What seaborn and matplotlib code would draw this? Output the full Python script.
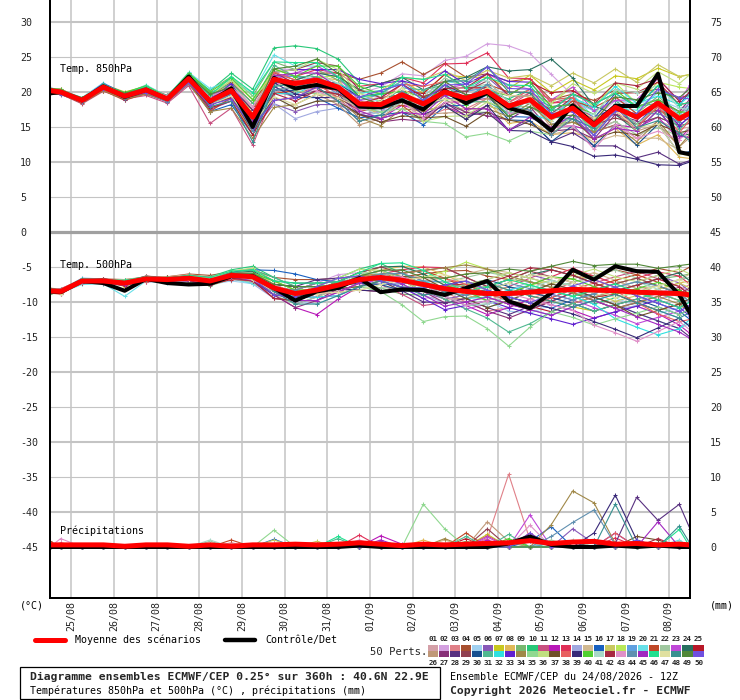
import matplotlib
matplotlib.use("Agg")
import matplotlib.pyplot as plt
import seaborn as sns
import pandas as pd
from matplotlib.lines import Line2D
from matplotlib.patches import Rectangle

# forecast steps (hours after 24/08 12Z)
hours = [0, 6, 18, 30, 42, 54, 66, 78, 90, 102, 114, 126, 138, 150, 162, 174,
         186, 198, 210, 222, 234, 246, 258, 270, 282, 294, 306, 318, 330, 342, 354, 360]
day_labels = ["25/08", "26/08", "27/08", "28/08", "29/08", "30/08", "31/08", "01/09",
              "02/09", "03/09", "04/09", "05/09", "06/09", "07/09", "08/09"]

member_colors = [
    "#d4a0a8", "#d4a0e0", "#e08088", "#a85030", "#a0d0f0", "#8858b8", "#c8c820", "#e0b858",
    "#78b870", "#28c878", "#c85080", "#b818b8", "#e03058", "#a0a8e0", "#d0b890", "#1860c0",
    "#c8c860", "#b8e858", "#60a0e0", "#68e0e8", "#c04828", "#a0c8a0", "#c048d8", "#287060",
    "#b81828",
    "#c09878", "#883078", "#583080", "#904050", "#185090", "#50b890", "#30e0e0", "#6020d0",
    "#a08848", "#90d890", "#c0e080", "#705028", "#e86060", "#382878", "#50d030", "#a8d8c8",
    "#a82840", "#e090c8", "#6090b0", "#a028c0", "#20e090", "#e0e0a0", "#389090", "#508838",
    "#7050e0"]

t850_mean = [20.2, 20.0, 18.8, 20.7, 19.4, 20.3, 19.0, 21.9, 18.7, 20.2, 16.4, 21.8, 21.2, 21.7, 20.7, 18.3,
             18.2, 19.6, 18.3, 20.0, 19.1, 20.1, 18.0, 18.9, 16.4, 17.7, 15.3, 17.8, 16.4, 18.4, 16.2, 17.0]
t850_ctrl = [19.8, 20.0, 18.8, 20.8, 19.3, 20.3, 19.0, 22.2, 18.6, 20.5, 15.0, 22.0, 20.5, 21.0, 20.5, 17.9,
             17.8, 18.8, 17.5, 20.2, 18.4, 19.9, 17.7, 16.9, 14.5, 18.1, 15.4, 18.0, 18.0, 22.6, 11.4, 11.1]
t500_mean = [-8.4, -8.5, -7.0, -7.0, -7.3, -6.7, -6.8, -6.6, -7.0, -6.2, -6.4, -8.0, -8.8, -8.3, -7.6, -6.8,
             -6.5, -6.9, -7.5, -8.1, -8.5, -8.8, -8.8, -8.6, -8.4, -8.2, -8.3, -8.4, -8.6, -8.7, -8.8, -9.0]
t500_ctrl = [-8.5, -8.6, -7.0, -7.3, -8.4, -6.7, -7.3, -7.5, -7.4, -6.3, -6.3, -8.0, -9.8, -8.5, -8.0, -6.6,
             -8.6, -8.2, -8.3, -9.0, -8.0, -7.0, -9.9, -10.9, -8.7, -5.4, -6.8, -4.9, -5.6, -5.7, -9.0, -11.6]
rr_mean = [0.3, 0.3, 0.3, 0.3, 0.1, 0.3, 0.3, 0.1, 0.3, 0.1, 0.3, 0.3, 0.4, 0.3, 0.4, 0.6,
           0.4, 0.2, 0.4, 0.3, 0.4, 0.5, 0.6, 0.9, 0.5, 0.7, 0.8, 0.4, 0.5, 0.3, 0.4, 0.3]
rr_ctrl = [0, 0, 0, 0, 0, 0, 0, 0, 0, 0, 0, 0, 0, 0, 0, 0.2,
           0, 0, 0, 0, 0, 0, 0.5, 1.5, 0.3, 0, 0, 0.2, 0, 0.2, 0, 0]

t850_members = [
    [20.5, 20.2, 18.9, 20.9, 19.4, 20.6, 19.2, 22.4, 19.5, 21.2, 17.9, 22.6, 20.7, 20.5, 19.2, 17.5, 17.2, 18.1, 17.8, 20.5, 20.1, 20.9, 17.5, 17.4, 14.4, 16.7, 14.8, 15.8, 13.4, 15.9, 14.7, 15.0],
    [20.3, 20.3, 19.0, 21.1, 19.7, 20.8, 19.4, 22.5, 19.2, 21.0, 17.4, 23.3, 23.2, 23.2, 21.7, 19.8, 20.7, 22.6, 22.3, 24.5, 25.1, 26.9, 26.6, 25.5, 22.5, 19.5, 16.0, 18.8, 16.4, 17.4, 16.7, 17.0],
    [20.0, 19.9, 18.6, 20.4, 19.5, 19.9, 18.8, 21.4, 17.7, 19.0, 15.9, 20.3, 19.2, 20.2, 19.7, 17.8, 18.2, 18.6, 16.3, 17.5, 17.6, 19.1, 18.5, 19.9, 16.9, 17.2, 16.3, 19.3, 16.9, 17.9, 15.2, 16.5],
    [20.4, 20.1, 19.1, 20.8, 19.6, 20.3, 19.3, 22.3, 19.5, 21.4, 18.4, 22.8, 21.7, 22.7, 22.7, 21.8, 22.7, 24.3, 22.5, 24.1, 22.1, 22.6, 21.5, 21.9, 18.9, 19.7, 18.8, 20.3, 19.9, 20.4, 19.2, 19.5],
    [20.1, 20.0, 19.0, 20.5, 19.7, 20.5, 19.1, 21.6, 18.9, 19.7, 14.9, 19.3, 17.7, 18.7, 18.7, 17.3, 17.7, 20.1, 19.8, 21.0, 19.1, 19.1, 16.0, 17.9, 16.9, 19.2, 17.3, 18.8, 18.4, 18.9, 17.7, 18.0],
    [19.9, 19.6, 18.6, 20.2, 19.1, 19.7, 18.6, 21.1, 17.5, 18.7, 14.4, 18.3, 17.2, 18.2, 18.2, 16.8, 17.2, 19.6, 18.8, 20.0, 20.1, 22.1, 19.5, 19.4, 17.9, 18.2, 14.8, 17.8, 14.9, 17.9, 16.7, 18.5],
    [20.2, 20.1, 19.1, 21.1, 20.0, 20.8, 19.3, 22.6, 19.7, 20.7, 17.4, 23.3, 22.2, 22.2, 20.7, 18.8, 19.7, 21.6, 19.8, 22.5, 22.1, 22.1, 20.5, 22.4, 19.9, 21.7, 20.3, 22.3, 21.9, 23.4, 22.2, 22.5],
    [20.4, 20.3, 18.9, 20.7, 19.2, 20.4, 19.2, 22.2, 18.2, 19.2, 13.9, 20.3, 20.7, 22.2, 21.7, 18.3, 16.7, 17.1, 16.3, 19.0, 18.6, 18.6, 15.5, 15.9, 13.9, 14.2, 13.3, 14.8, 12.4, 13.9, 10.7, 10.5],
    [20.0, 20.0, 18.5, 20.9, 19.4, 20.6, 18.9, 22.3, 20.2, 22.2, 19.4, 24.3, 23.2, 23.2, 21.7, 20.3, 19.7, 20.1, 17.8, 19.0, 17.1, 17.1, 14.5, 16.4, 14.9, 15.7, 14.3, 17.3, 16.9, 19.4, 16.7, 17.0],
    [20.3, 20.2, 19.0, 21.0, 19.8, 20.9, 19.4, 22.7, 20.2, 22.7, 20.4, 26.3, 26.6, 26.2, 24.7, 21.3, 20.7, 21.1, 19.3, 20.5, 18.6, 20.1, 19.0, 20.4, 18.9, 19.2, 17.3, 18.8, 16.4, 17.4, 15.7, 17.5],
    [19.8, 19.7, 18.3, 20.1, 19.0, 19.5, 18.4, 20.9, 15.5, 17.7, 12.4, 19.8, 19.7, 20.7, 18.7, 15.8, 16.7, 18.6, 18.3, 20.5, 18.6, 19.1, 18.0, 19.9, 18.4, 19.2, 15.8, 16.8, 14.9, 18.4, 17.2, 17.5],
    [20.3, 19.9, 18.8, 20.6, 19.6, 20.1, 19.0, 22.1, 18.2, 20.2, 15.4, 21.3, 21.2, 22.2, 20.2, 16.8, 16.2, 18.1, 17.3, 18.0, 16.6, 18.1, 17.0, 16.9, 14.9, 15.2, 14.3, 15.3, 14.9, 16.4, 13.2, 15.0],
    [20.5, 20.4, 19.1, 21.2, 19.6, 20.7, 19.5, 22.2, 18.7, 20.7, 17.4, 22.3, 22.2, 23.2, 22.7, 20.8, 21.2, 22.1, 21.3, 24.0, 24.1, 25.6, 22.0, 21.9, 18.4, 18.7, 15.3, 18.3, 17.9, 18.9, 15.7, 17.0],
    [20.1, 19.8, 18.9, 20.4, 19.3, 20.1, 19.0, 21.4, 17.9, 18.7, 15.4, 18.3, 16.2, 17.2, 17.7, 16.3, 17.2, 19.1, 18.8, 21.0, 19.1, 19.6, 18.5, 20.4, 16.9, 18.7, 17.3, 18.8, 17.9, 18.9, 17.2, 18.5],
    [20.4, 20.1, 18.7, 20.9, 19.2, 20.3, 19.3, 22.0, 19.2, 19.7, 16.9, 20.8, 21.7, 22.7, 21.2, 17.3, 16.2, 18.6, 18.3, 19.5, 20.1, 20.6, 17.5, 17.4, 13.9, 14.7, 12.8, 13.8, 13.4, 13.4, 11.7, 11.0],
    [20.0, 19.9, 18.8, 20.5, 19.0, 20.0, 18.8, 21.5, 17.2, 18.2, 13.9, 20.8, 19.2, 19.2, 17.7, 16.3, 16.7, 17.1, 15.3, 18.0, 18.1, 19.6, 16.5, 16.4, 14.9, 17.7, 16.3, 19.8, 17.9, 20.9, 18.2, 20.0],
    [20.2, 20.2, 18.9, 21.0, 19.5, 20.5, 19.1, 22.4, 19.5, 21.7, 18.9, 22.8, 21.2, 21.2, 21.2, 19.8, 20.2, 22.1, 21.8, 23.0, 21.6, 23.1, 22.0, 22.4, 20.9, 22.7, 21.3, 23.3, 21.4, 23.9, 22.2, 22.5],
    [20.3, 20.0, 19.0, 20.8, 19.7, 20.5, 19.0, 22.1, 19.3, 21.2, 16.9, 23.3, 22.2, 22.2, 22.2, 20.3, 19.2, 19.6, 17.3, 18.0, 16.1, 18.1, 17.0, 19.4, 18.4, 20.7, 17.8, 21.3, 18.4, 21.4, 20.7, 20.5],
    [19.9, 19.8, 18.7, 20.3, 19.4, 20.2, 18.7, 21.7, 18.0, 19.7, 16.4, 22.3, 22.2, 21.7, 19.7, 18.8, 19.7, 21.6, 19.3, 20.0, 20.1, 20.6, 19.5, 19.4, 15.4, 16.2, 14.8, 17.8, 15.4, 16.4, 15.2, 16.5],
    [20.6, 20.3, 19.2, 21.3, 19.7, 21.0, 19.4, 22.8, 20.5, 21.7, 19.9, 25.3, 23.7, 23.7, 22.2, 19.3, 18.7, 19.1, 18.8, 21.5, 21.1, 20.6, 16.5, 18.4, 17.4, 19.7, 16.3, 17.8, 17.4, 19.9, 16.7, 18.0],
    [19.7, 19.7, 18.4, 20.2, 18.8, 19.8, 18.7, 21.3, 17.2, 19.2, 15.9, 19.8, 20.2, 21.2, 19.2, 17.3, 17.7, 18.1, 15.8, 18.5, 18.6, 21.1, 20.0, 19.9, 16.4, 18.7, 17.8, 19.3, 16.9, 17.4, 16.2, 16.0],
    [20.2, 19.9, 19.0, 20.7, 19.5, 20.2, 19.2, 21.9, 19.0, 20.7, 17.9, 22.3, 20.7, 20.7, 20.7, 18.8, 17.7, 20.1, 19.3, 22.0, 20.6, 21.1, 18.0, 17.9, 15.9, 18.2, 14.3, 15.8, 13.9, 14.9, 13.7, 15.0],
    [20.5, 20.2, 18.8, 20.8, 19.4, 20.7, 19.1, 22.1, 18.4, 20.4, 15.9, 21.8, 22.7, 23.7, 22.2, 18.8, 19.2, 21.1, 19.3, 20.5, 21.1, 22.6, 21.0, 20.4, 18.9, 20.7, 17.3, 18.8, 18.9, 21.9, 18.7, 21.0],
    [20.1, 20.0, 18.6, 20.8, 19.1, 20.3, 18.8, 22.2, 18.2, 20.2, 15.4, 21.3, 21.7, 22.7, 22.2, 20.3, 21.2, 22.1, 20.3, 21.5, 22.1, 23.6, 23.0, 23.2, 24.7, 22.0, 18.0, 16.8, 14.4, 17.4, 13.7, 14.0],
    [20.0, 19.7, 18.7, 20.4, 19.2, 19.9, 18.9, 21.4, 17.7, 18.7, 13.9, 18.8, 19.2, 20.7, 20.2, 18.3, 17.7, 20.1, 19.8, 22.5, 20.6, 20.6, 19.5, 21.4, 19.9, 20.2, 18.3, 19.8, 19.9, 21.4, 18.2, 18.5],
    [20.3, 20.2, 18.8, 20.9, 19.3, 20.4, 19.0, 22.0, 18.9, 19.9, 14.9, 21.8, 20.2, 19.7, 18.2, 15.3, 16.2, 18.6, 16.8, 17.0, 17.1, 19.1, 17.5, 18.9, 14.9, 15.7, 14.3, 17.3, 14.4, 15.4, 12.2, 13.5],
    [19.9, 19.8, 18.5, 20.5, 18.9, 20.0, 18.6, 21.6, 17.9, 20.0, 16.9, 22.8, 21.2, 20.7, 18.7, 16.8, 15.7, 16.1, 15.8, 18.5, 17.1, 16.6, 16.0, 17.9, 14.4, 14.7, 13.3, 16.8, 15.9, 18.9, 17.2, 19.0],
    [20.4, 20.1, 19.0, 20.7, 19.6, 20.4, 19.3, 21.9, 19.2, 20.7, 17.4, 20.8, 19.2, 20.2, 19.7, 16.8, 16.2, 17.1, 16.3, 18.5, 16.6, 17.1, 14.5, 15.9, 12.9, 14.2, 12.3, 12.3, 10.6, 11.4, 9.7, 10.2],
    [20.1, 20.1, 18.6, 21.0, 19.4, 20.2, 19.1, 22.2, 18.5, 20.7, 15.9, 22.8, 23.2, 24.2, 23.7, 20.3, 19.2, 19.6, 17.3, 20.0, 20.1, 21.6, 18.5, 18.4, 16.9, 19.2, 15.3, 16.3, 15.4, 16.4, 15.2, 15.5],
    [20.2, 19.8, 18.9, 20.6, 19.6, 20.3, 18.9, 21.7, 19.1, 19.7, 14.9, 20.3, 20.2, 21.7, 21.2, 19.3, 19.7, 20.1, 18.3, 21.0, 19.6, 19.6, 16.0, 15.9, 12.9, 15.2, 12.3, 15.3, 12.4, 15.4, 11.2, 11.5],
    [20.5, 20.2, 19.1, 21.1, 19.9, 20.6, 19.5, 22.5, 19.9, 21.2, 18.4, 23.8, 22.2, 22.2, 20.7, 17.8, 18.2, 20.6, 20.3, 21.0, 18.6, 18.6, 17.0, 18.9, 17.4, 17.7, 14.3, 18.3, 17.9, 18.4, 14.7, 16.0],
    [20.0, 19.7, 18.6, 20.6, 19.1, 20.1, 18.7, 21.5, 18.4, 19.2, 15.9, 19.8, 19.7, 21.2, 21.2, 19.8, 20.2, 21.1, 18.8, 19.5, 19.1, 21.1, 17.0, 16.9, 15.9, 19.2, 17.8, 20.8, 18.4, 19.4, 18.2, 19.5],
    [20.3, 20.3, 19.0, 21.2, 19.8, 20.6, 19.2, 22.3, 18.9, 21.2, 16.4, 22.8, 23.2, 23.2, 23.2, 21.8, 21.2, 21.6, 20.8, 23.0, 21.1, 22.6, 21.5, 21.4, 17.9, 18.2, 16.3, 17.8, 15.4, 18.4, 15.2, 16.5],
    [19.8, 19.7, 18.5, 20.2, 19.0, 19.7, 18.7, 21.2, 17.2, 17.7, 13.4, 17.8, 18.2, 19.7, 19.2, 16.3, 15.2, 17.6, 17.3, 19.5, 17.6, 17.6, 16.5, 18.4, 15.4, 15.7, 14.3, 15.3, 12.9, 15.9, 12.2, 14.0],
    [20.4, 20.0, 18.9, 20.6, 19.5, 20.5, 19.0, 22.0, 19.2, 22.2, 19.4, 21.8, 20.2, 19.7, 19.7, 17.8, 17.2, 17.6, 15.8, 15.5, 13.6, 14.1, 13.0, 14.4, 13.9, 16.7, 14.8, 17.8, 15.4, 17.9, 16.7, 17.0],
    [20.2, 20.1, 18.7, 20.9, 19.4, 20.4, 19.2, 22.1, 19.5, 21.7, 18.9, 22.8, 23.2, 24.7, 23.2, 19.8, 18.7, 19.1, 15.8, 16.5, 16.6, 18.6, 17.5, 19.4, 18.4, 21.2, 19.8, 21.3, 20.4, 22.9, 21.2, 22.5],
    [20.4, 20.3, 18.8, 21.0, 19.3, 20.5, 19.0, 21.9, 18.2, 19.2, 14.4, 19.3, 17.7, 18.7, 18.7, 16.8, 15.7, 16.6, 16.3, 16.5, 15.1, 17.1, 16.0, 15.4, 13.9, 16.2, 13.3, 14.3, 13.9, 15.4, 14.2, 14.5],
    [20.3, 19.9, 18.8, 20.4, 19.3, 20.1, 18.9, 21.6, 18.5, 19.7, 16.9, 22.8, 21.7, 21.2, 19.2, 17.8, 18.7, 21.1, 20.8, 21.5, 19.6, 19.6, 18.5, 20.4, 18.9, 19.2, 15.8, 17.3, 14.9, 17.9, 14.2, 16.0],
    [20.1, 19.9, 18.9, 20.7, 19.2, 20.4, 18.8, 21.9, 19.0, 19.7, 16.4, 21.3, 19.7, 19.2, 19.2, 17.8, 18.7, 19.1, 16.8, 18.0, 16.1, 18.1, 14.5, 14.4, 12.9, 12.2, 10.8, 11.0, 10.4, 9.6, 9.5, 10.0],
    [20.5, 20.4, 19.0, 21.0, 19.9, 20.9, 19.3, 22.7, 20.0, 22.0, 18.9, 23.3, 22.2, 23.7, 23.7, 20.8, 19.7, 20.1, 19.3, 20.0, 18.1, 20.1, 19.5, 21.4, 17.9, 18.2, 16.8, 20.3, 17.9, 18.9, 17.2, 17.0],
    [20.0, 20.0, 18.6, 20.8, 19.3, 20.3, 18.9, 22.0, 18.3, 20.2, 15.4, 20.8, 21.2, 22.7, 21.2, 17.8, 16.7, 18.6, 18.3, 21.5, 21.6, 21.6, 18.5, 18.4, 16.9, 17.7, 16.8, 20.3, 19.9, 20.9, 17.7, 17.5],
    [20.2, 20.2, 18.7, 21.0, 19.6, 20.3, 19.1, 22.2, 18.3, 19.2, 14.9, 19.8, 18.7, 20.2, 19.7, 18.3, 19.2, 21.1, 19.3, 20.5, 20.6, 22.6, 19.5, 19.4, 17.4, 19.7, 18.3, 21.3, 20.9, 21.9, 18.7, 20.0],
    [20.4, 20.1, 19.1, 20.7, 19.7, 20.5, 19.4, 22.1, 19.3, 20.7, 17.9, 22.3, 20.7, 20.2, 18.7, 17.3, 18.2, 18.6, 16.3, 18.5, 18.6, 20.6, 17.0, 16.9, 14.9, 15.2, 11.8, 15.3, 13.4, 14.4, 13.2, 14.5],
    [19.9, 19.8, 18.5, 20.5, 19.2, 20.0, 18.6, 21.7, 18.1, 19.7, 14.4, 20.3, 20.7, 21.7, 20.2, 18.3, 17.7, 20.1, 17.8, 19.0, 19.1, 21.1, 18.0, 17.4, 13.9, 16.2, 13.8, 17.3, 16.9, 16.9, 15.7, 18.0],
    [20.3, 20.0, 19.0, 20.9, 19.5, 20.6, 19.0, 22.3, 19.6, 20.7, 15.9, 22.3, 22.7, 22.7, 20.7, 17.3, 16.2, 17.1, 16.8, 19.5, 17.6, 17.6, 14.5, 16.4, 14.9, 16.7, 13.3, 14.8, 14.4, 17.4, 13.7, 13.5],
    [20.4, 20.2, 18.9, 21.1, 19.7, 20.8, 19.2, 22.5, 19.5, 22.2, 19.9, 24.3, 24.2, 24.2, 22.2, 19.3, 19.7, 22.1, 21.8, 22.5, 20.6, 22.1, 21.0, 20.9, 17.4, 19.7, 18.3, 19.8, 17.9, 20.9, 18.2, 18.5],
    [20.1, 19.8, 18.8, 20.5, 19.4, 20.2, 19.0, 21.6, 18.2, 19.4, 15.4, 19.3, 18.2, 19.7, 19.2, 17.8, 18.7, 20.6, 18.3, 19.0, 18.6, 20.6, 19.5, 19.4, 15.9, 17.7, 16.3, 17.3, 14.9, 15.4, 11.2, 10.8],
    [20.2, 20.1, 18.8, 20.8, 19.2, 20.4, 18.8, 22.0, 17.9, 18.7, 12.9, 20.8, 21.2, 20.7, 18.7, 15.8, 16.7, 19.1, 18.8, 21.5, 21.6, 23.6, 20.0, 19.9, 16.4, 16.2, 14.8, 18.3, 14.9, 15.9, 14.2, 13.0],
    [20.5, 20.2, 19.2, 20.9, 19.8, 20.6, 19.2, 22.4, 19.7, 20.7, 16.4, 23.3, 23.7, 24.7, 22.7, 19.3, 18.2, 18.6, 18.8, 21.5, 19.6, 19.6, 16.5, 17.9, 16.4, 16.7, 15.8, 19.3, 18.9, 19.9, 19.2, 20.5],
    [20.0, 19.7, 18.7, 20.4, 19.3, 19.9, 18.8, 21.3, 18.2, 19.0, 14.9, 18.8, 19.2, 20.7, 20.7, 19.3, 20.2, 21.1, 18.8, 21.0, 21.1, 23.6, 20.5, 20.4, 16.9, 17.2, 13.8, 17.3, 16.9, 20.4, 19.2, 19.0],
]

t500_members = [
    [-8.2, -8.4, -7.0, -6.7, -7.1, -6.7, -6.6, -6.2, -6.7, -5.7, -5.6, -7.5, -7.8, -7.8, -7.6, -7.3, -7.5, -7.4, -7.0, -7.1, -7.0, -8.3, -9.8, -10.6, -9.9, -8.7, -7.8, -6.9, -8.1, -9.7, -10.8, -10.5],
    [-8.6, -8.8, -7.2, -7.1, -7.7, -6.9, -7.1, -6.7, -6.7, -6.2, -6.9, -8.5, -8.3, -7.3, -6.1, -5.8, -6.5, -7.9, -9.5, -9.1, -8.0, -6.8, -5.8, -6.6, -7.4, -8.2, -9.8, -10.9, -10.1, -8.7, -7.8, -8.5],
    [-8.3, -8.3, -6.9, -7.2, -7.3, -6.4, -6.7, -6.8, -7.3, -6.0, -5.9, -7.0, -8.3, -8.8, -8.6, -7.3, -6.0, -5.9, -7.0, -8.6, -10.0, -11.3, -10.8, -9.6, -8.4, -7.2, -6.3, -7.4, -8.6, -9.7, -8.3, -7.5],
    [-8.4, -8.6, -6.8, -6.7, -6.8, -6.5, -6.4, -6.0, -6.2, -5.7, -5.4, -6.5, -6.8, -6.8, -6.6, -6.3, -6.5, -6.4, -6.0, -5.6, -5.5, -6.3, -6.8, -5.6, -4.9, -5.7, -6.3, -5.4, -6.1, -5.2, -5.8, -5.0],
    [-8.7, -8.7, -7.4, -7.3, -7.5, -7.2, -7.0, -6.9, -7.5, -7.0, -7.4, -8.5, -9.8, -10.3, -9.1, -7.3, -6.0, -5.4, -5.5, -7.1, -8.5, -9.8, -11.3, -11.6, -10.4, -9.2, -8.3, -9.4, -10.6, -11.7, -10.8, -10.0],
    [-8.1, -8.3, -6.8, -6.9, -7.0, -6.5, -6.8, -6.3, -6.5, -5.9, -6.4, -8.5, -10.3, -9.3, -7.6, -6.3, -5.5, -6.9, -8.5, -9.6, -9.0, -8.3, -7.3, -6.1, -6.9, -7.7, -8.8, -7.9, -7.1, -6.2, -7.3, -8.5],
    [-8.5, -8.5, -7.3, -6.8, -7.8, -6.6, -7.0, -6.5, -7.2, -6.5, -6.9, -9.0, -9.3, -7.8, -6.6, -6.3, -7.0, -8.4, -8.5, -8.1, -7.5, -7.3, -8.3, -9.1, -9.9, -10.7, -11.3, -10.4, -9.6, -8.7, -9.8, -11.0],
    [-8.2, -8.2, -6.9, -7.0, -7.1, -6.7, -6.5, -6.4, -7.0, -5.6, -5.2, -7.0, -8.3, -8.3, -8.1, -6.8, -5.5, -4.9, -5.0, -6.1, -7.5, -8.8, -9.8, -8.6, -7.4, -6.2, -6.8, -7.9, -9.1, -8.2, -7.3, -7.0],
    [-8.8, -8.8, -7.2, -7.4, -7.6, -6.9, -7.2, -7.1, -7.7, -6.7, -6.7, -8.0, -8.3, -7.3, -7.1, -7.3, -8.0, -8.9, -9.0, -8.6, -8.0, -7.8, -6.8, -7.1, -7.9, -8.7, -9.3, -8.4, -7.6, -6.7, -6.3, -6.0],
    [-8.4, -8.4, -6.7, -6.8, -6.9, -6.4, -6.6, -6.2, -6.4, -5.4, -4.9, -6.5, -7.8, -7.8, -6.6, -5.3, -4.5, -5.9, -7.5, -9.1, -10.5, -10.3, -9.3, -8.1, -8.4, -9.2, -10.3, -9.4, -8.6, -7.7, -8.8, -10.0],
    [-8.1, -8.1, -6.8, -6.7, -7.2, -6.3, -6.5, -6.4, -6.8, -6.2, -6.9, -8.5, -9.8, -9.8, -8.6, -7.3, -7.5, -8.9, -10.5, -10.1, -9.5, -8.8, -7.8, -6.6, -5.4, -6.2, -7.3, -6.4, -5.6, -6.7, -7.8, -9.0],
    [-8.6, -8.6, -7.0, -7.3, -7.4, -7.1, -7.0, -7.0, -7.6, -6.5, -7.2, -9.0, -10.8, -11.8, -9.6, -7.8, -6.5, -6.4, -7.5, -9.1, -10.5, -11.8, -10.8, -9.6, -10.4, -11.2, -12.3, -11.4, -10.6, -11.7, -13.3, -14.5],
    [-8.3, -8.5, -6.8, -6.9, -7.0, -6.5, -6.7, -6.3, -6.8, -5.8, -5.9, -8.0, -8.3, -7.3, -7.1, -6.8, -6.0, -5.4, -5.0, -5.1, -6.5, -7.8, -8.8, -7.6, -6.4, -5.2, -6.3, -7.4, -6.6, -5.7, -6.3, -7.5],
    [-8.5, -8.7, -7.1, -7.0, -7.5, -6.6, -6.8, -6.7, -7.4, -6.4, -7.4, -9.5, -9.8, -8.3, -7.1, -5.8, -6.0, -7.4, -9.0, -10.1, -10.0, -9.3, -8.3, -7.1, -7.9, -8.7, -9.8, -10.9, -10.6, -9.7, -8.8, -10.0],
    [-8.0, -8.2, -6.7, -6.8, -6.8, -6.4, -6.4, -6.1, -6.4, -5.7, -5.6, -7.5, -8.8, -7.8, -6.6, -6.3, -6.5, -7.4, -7.0, -6.6, -6.0, -5.3, -5.8, -6.6, -7.4, -6.7, -5.8, -6.9, -8.1, -7.7, -6.8, -6.0],
    [-8.6, -8.8, -7.0, -6.8, -7.3, -6.5, -6.7, -6.6, -6.8, -5.7, -5.4, -5.5, -6.0, -6.8, -7.1, -6.8, -7.0, -7.9, -8.0, -7.6, -7.0, -8.3, -9.3, -10.1, -10.9, -9.7, -8.8, -7.9, -9.1, -10.2, -11.3, -12.5],
    [-8.2, -8.3, -7.0, -6.9, -7.6, -6.5, -6.8, -6.3, -6.9, -5.9, -5.8, -8.0, -9.3, -9.3, -8.1, -6.3, -5.0, -4.9, -6.0, -7.6, -9.0, -9.8, -8.8, -7.6, -6.9, -7.7, -8.8, -9.9, -9.1, -8.2, -7.3, -8.0],
    [-8.5, -8.5, -6.9, -7.1, -7.1, -6.7, -6.9, -6.4, -6.7, -6.0, -5.9, -7.0, -8.3, -8.3, -7.1, -5.8, -6.0, -6.9, -6.5, -5.6, -4.3, -5.3, -6.8, -7.6, -8.4, -9.2, -8.3, -7.4, -6.6, -7.7, -8.8, -8.5],
    [-8.1, -8.3, -6.6, -6.7, -7.2, -6.4, -6.6, -6.6, -7.2, -6.2, -6.9, -8.5, -8.8, -7.8, -7.6, -7.3, -7.5, -7.4, -7.0, -7.1, -8.0, -9.3, -10.3, -11.1, -11.9, -10.7, -9.8, -8.9, -10.1, -11.2, -12.3, -13.5],
    [-8.7, -8.7, -7.5, -7.4, -9.2, -7.0, -7.3, -6.8, -7.3, -6.7, -7.4, -8.5, -8.3, -7.3, -7.1, -6.8, -7.0, -6.9, -7.0, -8.1, -9.5, -10.8, -9.8, -8.6, -7.4, -8.2, -9.3, -10.4, -11.6, -12.7, -13.8, -13.0],
    [-8.4, -8.4, -6.8, -6.7, -7.2, -6.5, -6.5, -6.5, -6.7, -6.0, -6.4, -7.5, -7.8, -7.8, -7.6, -7.3, -6.5, -5.9, -5.5, -6.6, -8.0, -9.3, -10.3, -11.1, -9.9, -8.7, -7.8, -6.9, -6.1, -7.2, -8.3, -9.5],
    [-8.2, -8.4, -7.1, -7.0, -7.3, -6.9, -6.8, -6.9, -7.5, -6.6, -7.2, -9.0, -10.3, -9.3, -8.1, -7.8, -8.0, -7.9, -7.5, -7.1, -6.5, -5.8, -6.3, -7.1, -7.9, -7.2, -6.3, -5.4, -6.6, -7.7, -6.8, -6.5],
    [-8.6, -8.8, -7.1, -7.2, -7.6, -6.8, -7.1, -6.8, -7.0, -6.4, -6.7, -8.0, -9.3, -9.3, -9.1, -7.8, -6.5, -6.4, -8.0, -9.6, -11.0, -10.3, -9.3, -8.1, -8.9, -9.7, -10.8, -11.9, -13.1, -12.2, -11.3, -10.5],
    [-8.3, -8.3, -6.8, -6.9, -7.0, -6.6, -6.6, -6.3, -6.9, -5.8, -5.6, -7.0, -7.3, -7.3, -7.1, -5.8, -5.0, -4.9, -6.0, -7.6, -8.5, -8.3, -7.3, -6.1, -5.4, -6.2, -7.3, -8.4, -7.6, -6.7, -5.8, -7.0],
    [-8.7, -8.7, -7.3, -7.1, -7.5, -7.0, -6.9, -6.9, -7.5, -6.8, -6.9, -9.5, -9.8, -8.8, -8.6, -8.3, -8.5, -8.4, -8.0, -7.6, -7.5, -8.8, -9.8, -10.6, -11.4, -10.2, -9.3, -8.9, -10.1, -11.2, -10.3, -9.5],
    [-8.3, -8.5, -6.9, -6.8, -7.2, -6.7, -6.6, -6.6, -7.1, -6.1, -6.1, -7.5, -8.8, -8.8, -7.6, -6.3, -5.5, -6.4, -8.0, -9.6, -9.5, -8.8, -7.8, -8.6, -9.4, -10.2, -9.3, -8.4, -7.6, -8.7, -9.8, -9.0],
    [-8.2, -8.2, -7.0, -7.1, -7.1, -6.6, -6.9, -6.5, -6.7, -6.1, -6.6, -9.0, -10.8, -9.8, -8.1, -6.8, -6.0, -6.9, -8.5, -10.1, -10.0, -11.3, -12.3, -11.1, -9.9, -8.7, -9.8, -10.9, -10.1, -9.2, -8.3, -9.5],
    [-8.5, -8.5, -6.8, -7.0, -7.2, -6.5, -6.8, -6.5, -6.8, -6.2, -6.2, -7.5, -7.8, -6.8, -6.6, -6.3, -7.0, -8.4, -10.0, -10.1, -9.5, -10.8, -11.8, -10.6, -9.4, -8.2, -9.3, -10.4, -11.6, -12.7, -13.8, -15.0],
    [-8.1, -8.3, -6.9, -6.7, -7.1, -6.3, -6.6, -6.2, -6.5, -5.9, -5.9, -8.0, -9.3, -8.3, -7.1, -5.8, -5.0, -5.9, -5.5, -5.1, -6.5, -7.8, -6.8, -5.6, -6.4, -7.2, -8.3, -7.4, -6.6, -7.7, -8.8, -8.0],
    [-8.5, -8.6, -7.2, -6.9, -7.4, -6.8, -6.7, -6.8, -7.1, -6.4, -6.4, -8.5, -9.8, -8.8, -7.6, -7.3, -7.5, -8.4, -8.5, -8.1, -7.5, -6.8, -7.8, -8.6, -9.4, -10.2, -11.3, -10.4, -9.6, -10.7, -11.8, -11.0],
    [-8.4, -8.4, -7.0, -6.9, -7.3, -6.6, -6.6, -6.6, -6.6, -5.9, -5.4, -6.5, -7.8, -7.8, -7.6, -6.3, -5.5, -6.4, -8.0, -9.6, -11.0, -12.3, -14.3, -13.1, -11.4, -10.2, -11.3, -10.4, -9.6, -8.7, -9.8, -11.0],
    [-8.2, -8.4, -6.7, -6.8, -7.5, -6.5, -6.7, -6.4, -7.0, -6.0, -6.1, -8.0, -9.3, -9.3, -9.1, -7.8, -7.0, -6.9, -7.0, -8.1, -9.5, -9.3, -8.3, -7.6, -8.4, -9.2, -10.3, -12.4, -13.6, -14.7, -13.8, -12.5],
    [-8.6, -8.6, -7.2, -7.3, -7.4, -6.9, -7.1, -6.7, -7.4, -6.5, -7.0, -9.0, -9.3, -8.3, -7.1, -6.8, -7.0, -7.9, -9.5, -11.1, -10.5, -9.8, -10.8, -11.6, -12.4, -13.2, -12.3, -11.4, -10.6, -9.7, -10.8, -12.0],
    [-8.3, -8.3, -6.9, -7.0, -7.1, -6.7, -6.7, -6.3, -7.0, -6.0, -6.0, -7.5, -8.8, -8.8, -7.6, -6.3, -6.0, -5.9, -5.5, -5.1, -4.7, -5.3, -6.3, -7.1, -7.9, -8.7, -9.8, -10.9, -10.1, -9.2, -10.3, -11.5],
    [-8.4, -8.6, -7.0, -6.9, -7.2, -6.8, -6.8, -6.4, -7.2, -6.2, -6.9, -8.0, -8.3, -8.3, -8.1, -7.8, -8.5, -10.4, -12.8, -12.1, -12.0, -13.8, -16.3, -13.6, -11.4, -12.2, -13.3, -12.4, -11.6, -10.7, -11.8, -11.0],
    [-8.5, -8.7, -6.9, -6.8, -7.3, -6.4, -6.7, -6.3, -6.6, -5.6, -5.2, -7.5, -8.8, -7.8, -6.6, -5.3, -5.5, -6.9, -8.5, -8.1, -7.5, -6.8, -5.8, -6.6, -7.4, -6.2, -5.3, -6.4, -7.1, -6.2, -5.3, -6.0],
    [-8.1, -8.3, -6.8, -6.9, -7.0, -6.5, -6.5, -6.4, -6.8, -6.2, -6.7, -9.0, -9.3, -8.3, -8.1, -7.8, -7.0, -6.4, -6.5, -8.1, -9.5, -10.8, -9.8, -8.6, -7.4, -8.2, -9.3, -10.4, -12.1, -11.2, -10.3, -9.5],
    [-8.7, -8.9, -7.2, -7.3, -7.4, -7.1, -7.0, -6.9, -7.1, -6.7, -6.9, -8.0, -8.3, -7.3, -7.1, -6.8, -7.0, -6.9, -6.5, -6.6, -7.5, -8.8, -9.8, -10.6, -9.4, -8.2, -7.3, -8.4, -10.1, -11.7, -12.8, -12.5],
    [-8.3, -8.5, -7.1, -7.0, -7.5, -6.6, -6.9, -6.6, -6.9, -6.3, -6.4, -7.5, -7.8, -7.8, -8.1, -8.3, -8.5, -8.4, -8.0, -7.6, -7.0, -8.3, -9.3, -10.1, -10.9, -11.7, -12.8, -13.9, -15.1, -13.7, -12.3, -13.5],
    [-8.4, -8.4, -6.9, -7.1, -7.2, -6.5, -6.8, -6.7, -6.8, -6.0, -5.9, -7.0, -8.3, -8.3, -7.1, -6.8, -7.0, -7.9, -8.0, -7.6, -8.5, -9.8, -8.8, -7.6, -6.4, -6.7, -7.8, -8.9, -8.1, -7.2, -8.3, -9.5],
    [-8.2, -8.2, -6.9, -6.8, -7.3, -6.6, -6.6, -6.5, -6.7, -6.0, -5.8, -8.0, -9.8, -8.8, -7.6, -5.8, -6.0, -6.9, -8.0, -9.1, -10.5, -10.3, -9.3, -8.1, -6.9, -7.7, -8.8, -7.9, -7.1, -8.2, -9.3, -8.5],
    [-8.6, -8.6, -7.3, -7.2, -7.7, -6.8, -7.0, -6.9, -7.6, -6.6, -7.0, -9.5, -9.8, -8.8, -8.6, -7.3, -6.5, -6.4, -7.5, -8.6, -8.0, -7.3, -6.3, -5.1, -5.4, -6.2, -7.3, -8.4, -7.6, -6.7, -7.8, -9.0],
    [-8.3, -8.3, -7.0, -6.8, -7.2, -6.5, -6.7, -6.4, -7.0, -6.1, -6.2, -7.5, -8.8, -8.8, -8.6, -7.3, -6.5, -6.4, -7.5, -9.1, -10.5, -9.8, -8.8, -9.6, -10.4, -11.2, -13.3, -14.4, -15.6, -14.2, -12.8, -14.0],
    [-8.5, -8.5, -6.9, -7.0, -7.1, -6.7, -6.7, -6.6, -6.8, -5.9, -6.0, -8.0, -8.3, -7.3, -7.1, -6.8, -6.0, -5.9, -7.0, -8.6, -9.0, -8.3, -7.3, -8.1, -8.9, -9.7, -8.8, -7.9, -7.1, -7.7, -8.8, -10.0],
    [-8.4, -8.6, -7.2, -7.1, -7.6, -6.7, -6.9, -6.8, -7.4, -6.4, -6.9, -8.5, -9.8, -9.8, -8.6, -7.3, -6.5, -7.4, -9.0, -10.6, -10.0, -9.3, -10.3, -11.1, -11.9, -10.7, -9.8, -10.9, -12.1, -13.2, -14.3, -15.2],
    [-8.1, -8.3, -6.7, -6.8, -6.9, -6.4, -6.6, -6.2, -6.5, -5.6, -5.4, -7.0, -7.3, -7.3, -7.1, -5.8, -4.5, -4.4, -5.5, -7.1, -8.5, -7.8, -6.8, -7.6, -8.4, -9.2, -8.3, -7.4, -8.6, -9.7, -10.8, -10.0],
    [-8.6, -8.8, -7.1, -7.2, -7.3, -6.9, -6.9, -6.8, -7.3, -6.3, -6.8, -8.5, -8.8, -8.8, -8.6, -8.3, -7.5, -6.9, -6.5, -6.1, -7.0, -8.3, -7.3, -6.1, -6.4, -7.2, -8.3, -9.4, -8.6, -7.7, -6.8, -7.5],
    [-8.3, -8.4, -7.0, -7.0, -7.3, -6.8, -6.8, -6.6, -7.2, -6.2, -6.2, -8.5, -10.3, -10.3, -9.1, -7.8, -7.0, -7.9, -9.0, -8.6, -8.0, -7.3, -8.3, -9.1, -9.9, -10.7, -9.8, -8.9, -10.1, -11.2, -12.3, -11.5],
    [-8.5, -8.5, -6.8, -6.9, -7.2, -6.6, -6.6, -6.5, -6.9, -5.9, -5.9, -7.5, -7.8, -7.8, -7.6, -6.3, -5.5, -5.4, -6.5, -6.6, -6.0, -5.8, -5.3, -5.6, -4.9, -4.2, -4.8, -4.6, -4.6, -5.2, -4.8, -4.6],
    [-8.2, -8.4, -7.0, -7.1, -7.5, -6.6, -6.9, -6.6, -7.1, -6.1, -6.6, -9.0, -9.3, -7.8, -6.6, -6.3, -7.0, -7.9, -8.0, -7.6, -7.0, -8.3, -9.3, -10.1, -8.9, -7.7, -6.8, -7.9, -9.1, -10.2, -11.3, -10.5],
]

rr_members = [
    [0, 0, 0, 0, 0, 0, 0, 0, 0, 0, 0, 0, 0, 0, 0, .4, 0, 0, 0, 0, .6, 0, 0, 0, 0, 0, 0, 0, 0, 0, 0, 0],
    [0, 0, 0, 0, 0, 0, 0, 0, 0, 0, 0, 0, 0, 0, 0, 0, 0, 0, 0, 0, 0, .5, 0, 0, 0, 0, 0, 0, 0, 0, 0, 0],
    [0, 0, 0, 0, 0, 0, 0, 0, 0, .6, 0, 0, 0, 0, 0, 0, 0, 0, 0, 0, 0, 1.2, 10.4, 1, 0, 0, 0, 0, 0, 0, 0, 0],
    [.8, 0, 0, 0, 0, 0, 0, 0, 0, 0, 0, 0, 0, 0, 0, 0, 0, 0, 0, 0, 0, 0, 0, 0, 0, 0, 0, 0, 0, 0, 0, 0],
    [0, 0, 0, 0, 0, 0, 0, 0, 0, 0, 0, 0, 0, 0, 0, 0, 0, 0, 0, 0, 0, 0, .8, 0, 0, 0, 0, 0, 0, 0, 0, 0],
    [0, 0, 0, 0, 0, 0, 0, 0, 0, 0, 0, 0, 0, 0, 0, 0, .8, 0, 0, 0, 0, 0, 0, 1.5, 0, 2.6, .5, 0, 0, 0, 0, 0],
    [.6, 0, 0, 0, 0, 0, 0, 0, 0, 0, 0, 0, 0, 0, 0, 0, 0, 0, 0, 0, 0, 1.8, 0, 0, 0, 0, 0, 0, 0, 0, 0, 0],
    [0, 0, 0, 0, 0, 0, 0, 0, 0, 0, 0, 0, 0, 0, 0, 0, 0, 0, 1, 0, 0, 0, 0, 0, 0, 0, 0, 0, 0, 0, 0, 0],
    [0, 0, 0, 0, 0, 0, 0, 0, 0, 0, 0, 0, 0, 0, 0, 0, 0, 0, 0, 0, .8, 0, .6, 0, 0, 0, 0, 0, 0, 0, 0, 0],
    [0, 0, 0, 0, 0, 0, 0, 0, 0, 0, 0, 0, 0, 0, 0, 0, 0, 0, 0, 0, 0, 0, 0, 0, .5, 0, 0, 0, 0, 0, 0, 0],
    [0, .6, 0, 0, 0, 0, 0, 0, 0, 0, 0, 0, 0, 0, 0, 0, 0, 0, 0, 0, 0, 1.6, 0, 0, 0, 0, 0, 0, 0, 0, 0, 0],
    [0, 0, 0, 0, 0, 0, 0, 0, 0, 0, 0, 0, 0, .5, 0, 0, 1.6, .4, 0, 0, 0, 1, 0, 0, 0, 0, 0, 0, 0, 0, 0, 0],
    [0, 0, 0, 0, 0, 0, 0, 0, 0, 0, 0, 0, 0, 0, 0, 1.7, 0, 0, 0, 0, 0, 0, 0, 2, 0, 0, 0, 1.3, 0, 0, 0, 0],
    [0, 0, 0, 0, 0, 0, 0, 0, 0, 0, 0, 0, 0, 0, 0, 0, 0, 0, 0, .4, 0, 0, 0, 0, 0, 0, 0, 0, 0, 0, 0, 0],
    [0, 0, 0, 0, 0, 0, 0, 0, 0, 0, 0, 0, 0, 0, 0, 0, 0, 0, 0, 1, 0, 0, 0, 0, 0, .8, 0, 0, 0, 0, 0, 0],
    [.5, .3, 0, 0, 0, 0, 0, 0, 0, 0, 0, 1.1, 0, 0, 0, 0, 0, 0, 0, 0, 0, 0, 0, .8, 2.9, 0, 0, 0, 0, 0, 0, 0],
    [0, 0, 0, 0, 0, 0, 0, 0, 0, 0, 0, 1, 0, .8, 0, 0, 0, 0, 0, 0, 0, 0, 0, 0, 0, 0, 0, 0, 0, 0, 0, 0],
    [0, 0, 0, 0, 0, 0, 0, 0, 0, 0, 0, 0, 0, 0, 0, 0, 0, 0, 0, 0, .5, 0, 0, 0, 0, 0, 0, 0, 0, 0, 0, 0],
    [0, 0, 0, 0, 0, 0, 0, 0, 0, 0, 0, 0, 0, 0, 0, 0, 0, 0, 0, 0, 0, 0, 0, 0, .6, 0, 0, 0, 0, 0, 0, 0],
    [0, 0, 0, 0, 0, 0, 0, 0, 0, 0, 0, 0, 0, 0, 0, 0, 0, 0, 0, 0, 0, 0, 0, 0, 0, 0, 0, 0, 0, 0, 1, 0],
    [0, 0, 0, 0, 0, 0, 0, 0, 0, 1, 0, 0, 0, 0, 0, 0, 0, 0, 0, 0, 2, 0, 0, 0, 0, 0, 0, 0, 0, 0, 0, 0],
    [0, 0, 0, 0, 0, 0, 0, 0, .8, 0, 0, 0, 0, 0, 0, 0, 0, 0, 0, 0, 0, 0, 0, 0, 1, 0, 0, 0, 0, 0, 0, 0],
    [0, 0, 0, 0, 0, 0, 0, 0, 0, 0, 0, 0, 0, 0, 0, 0, 0, 0, 0, 0, 0, 1.4, 0, 4.6, 0, 0, 0, 0, 0, 0, 0, 0],
    [0, 0, 0, 0, 0, 0, 0, 0, 0, 0, 0, 0, 0, 0, 0, 0, 0, 0, 0, 0, 0, 0, 0, 0, 0, 0, .7, 0, 0, 0, 0, 0],
    [0, 0, 0, 0, 0, 0, 0, 0, 0, 0, 0, 0, 0, 0, 0, 0, 0, 0, 0, 0, 1.2, 0, 0, 0, 0, 0, 0, 0, 0, 0, 0, 0],
    [0, 0, 0, 0, 0, 0, 0, 0, 0, 0, 0, 0, 0, 0, 0, 0, 0, 0, 0, 0, 0, 3.6, .8, 0, 0, 0, 0, 0, 0, 0, 0, 0],
    [0, 0, 0, 0, 0, 0, 0, 0, 0, 0, 0, 0, 0, 0, 0, 0, 0, 0, 0, 0, 0, 0, 0, 0, 0, 0, 0, .6, 0, 0, 0, 0],
    [0, 0, 0, 0, 0, 0, 0, 0, 0, 0, 0, 0, 0, 0, 0, 0, 0, 0, 0, 0, 0, 0, 0, 0, 0, 0, 0, .5, 7.1, 3.8, 6.1, 2.6],
    [0, 0, 0, 0, 0, 0, 0, 0, 0, 0, 0, 0, 0, 0, 0, 0, 0, 0, 0, 0, 0, 2.6, 0, 0, 0, 0, 0, 0, 0, 0, 0, 0],
    [0, 0, 0, 0, 0, 0, 0, 0, 0, 0, 0, 0, 0, 0, 0, 0, 0, 0, 0, 0, 0, 0, 0, 0, 0, 0, 1, 0, 0, 0, 0, 0],
    [0, 0, 0, 0, 0, 0, 0, 0, 0, 0, 0, 0, 0, 0, 1.2, 0, 0, 0, 0, 0, 1.5, 0, 1.8, 0, 0, 0, 0, 0, 0, 0, 0, 0],
    [0, 0, 0, 0, 0, 0, 0, 0, 0, 0, 0, 0, 0, 0, 0, 0, 0, 0, 0, 0, 0, 0, 0, 0, 0, 0, 0, 0, 0, .6, 0, 0],
    [0, 0, 0, 0, 0, 0, 0, 0, 0, 0, 0, 0, 0, 0, 0, 0, .5, 0, 0, 0, 0, 0, 0, 0, 0, 0, 0, 2, 0, 0, 0, 0],
    [0, 0, 0, 0, 0, 0, 0, 0, 0, 0, 0, 0, 0, 0, 0, 0, 0, 0, 0, 1.2, 0, 0, 0, 0, 3.2, 8, 6.3, .5, 0, 0, 0, 0],
    [0, 0, 0, 0, 0, 0, 0, 0, 0, 0, 0, 2.4, 0, 0, 0, 0, 0, 0, 6.1, 2.6, 0, 0, 0, 0, 0, 0, 0, 0, 0, 0, 0, 0],
    [0, 0, 0, 0, 0, 0, 0, 0, 0, 0, 0, 0, 0, 0, 0, .8, 0, 0, 0, 0, 0, 0, 0, 0, 0, 0, 0, 0, 0, 0, 0, 0],
    [0, 0, 0, 0, 0, 0, 0, 0, 0, 0, 0, 0, 0, 0, 0, 0, 0, 0, 0, 0, 0, 0, 0, 0, 0, 0, 0, 0, 1.5, 1, 0, 0],
    [0, 0, 0, 0, 0, 0, 0, 0, 0, 0, 0, 0, 0, 0, 0, 0, 0, 0, 0, 0, 0, 0, 0, 0, 0, 0, 0, 2, 0, 0, 0, 0],
    [0, 0, 0, 0, 0, 0, 0, 0, 0, 0, 0, 0, 0, 0, 0, 0, 0, 0, 0, 0, 0, 0, 0, 0, 0, 0, 2, 7.4, 1, 0, 0, 0],
    [0, 0, 0, 0, 0, 0, 0, 0, 0, 0, 0, 0, 0, 0, 0, 0, 0, 0, 0, 0, 0, 0, 1.2, 0, 0, 0, 0, 0, 0, 0, 0, 0],
    [0, 0, 0, 0, 0, 0, 0, 0, 1, 0, 0, 0, 0, 0, 0, 0, 0, 0, 0, 0, 0, 0, 0, 0, 0, 1, 0, 0, 0, 0, .8, 0],
    [0, 0, 0, 0, 0, 0, 0, 0, 0, 0, 0, 0, 0, 0, 0, 0, 0, 0, 0, 0, 0, 0, 0, 0, 0, 0, 0, 0, 0, 1.2, 0, 0],
    [0, 1.2, 0, 0, 0, 0, 0, 0, 0, 0, 0, .5, 0, 0, 0, 1, 0, 0, 0, 0, 0, 0, 0, 3.1, 0, 0, 0, 0, 0, 0, 0, 0],
    [0, 0, 0, 0, 0, 0, 0, 0, 0, 0, 0, 0, 0, 0, 0, 0, 0, 0, 0, 0, 0, 0, 0, 0, 1.5, 3.5, 5.3, .3, 0, 0, 0, 0],
    [0, 0, 0, 0, 0, 0, 0, 0, 0, 0, 0, 0, 0, 0, 0, 0, 1, 0, 0, 0, 0, 0, 0, 0, 0, 0, 0, 0, 0, 3.6, 0, 0],
    [0, 0, 0, 0, 0, 0, 0, 0, 0, 0, 0, 0, 0, 0, 1.5, 0, 0, 0, 0, 0, 0, 0, 0, 0, 0, 0, 0, 0, 0, 0, 2.5, 0],
    [0, 0, 0, 0, 0, 0, 0, 0, 0, 0, 0, 0, 0, 0, 0, .6, 0, 0, 0, 0, 0, 0, 0, 0, 0, 0, 0, 0, 0, 0, 0, 0],
    [0, 0, 0, 0, 0, 0, 0, 0, 0, 0, 0, 0, 0, 0, 0, 0, 0, 0, 0, 0, 0, 0, 0, 0, 0, 0, 0, 6.1, 0, 0, 3, .5],
    [0, 0, 0, 0, 0, 0, 0, 0, 0, 0, 0, 0, 0, 0, 0, 0, 0, 0, 0, 0, 0, 0, 0, 0, 0, 0, 0, 0, .8, 0, 0, 0],
    [0, 0, 0, 0, 0, 0, 0, 0, 0, 0, 0, 0, 0, 0, 0, 0, 0, 0, 0, 0, 0, 0, 0, 2, 0, 0, 0, 0, 1, 0, 0, 0],
]

RR_ZERO = -45  # precipitation 0 mm sits on the -45 line of the left scale

sns.set_style("white")
plt.rcParams["font.family"] = ["DejaVu Sans Mono"]

W, H = 740, 700
fig = plt.figure(figsize=(W / 100, H / 100), dpi=100)
ax = fig.add_axes([50 / W, 1 - 598 / H, 640 / W, 598 / H])


def fx(x):
    return x / W


def fy(y):
    return 1 - y / H


names = ["%02d" % (i + 1) for i in range(len(member_colors))]
rows = []
for name, a, b, p in zip(names, t850_members, t500_members, rr_members):
    for h, va, vb, vp in zip(hours, a, b, p):
        rows.append((name, h, va, vb, vp + RR_ZERO))
df = pd.DataFrame(rows, columns=["member", "hour", "t850", "t500", "rr"])
pal = dict(zip(names, member_colors))

for col in ["t850", "t500", "rr"]:
    sns.lineplot(data=df, x="hour", y=col, hue="member", hue_order=names, palette=pal,
                 estimator=None, legend=False, lw=0.8, marker="+", ms=3.5, ax=ax, zorder=2)
for ln in ax.lines:
    ln.set_markeredgecolor(ln.get_color())

rr_ctrl_y = [v + RR_ZERO for v in rr_ctrl]
rr_mean_y = [v + RR_ZERO for v in rr_mean]
for ctrl in [t850_ctrl, t500_ctrl, rr_ctrl_y]:
    sns.lineplot(x=hours, y=ctrl, color="black", lw=2.9, ax=ax, zorder=3)
for mean in [t850_mean, t500_mean, rr_mean_y]:
    sns.lineplot(x=hours, y=mean, color="#ff0000", lw=3.6, ax=ax, zorder=4)

# grid
grid_c = "#c4c4c4"
for k in range(len(day_labels)):
    ax.axvline(12 + 24 * k, color=grid_c, lw=1.1, zorder=0)
for v in range(-40, 31, 5):
    if v == 0:
        continue
    ax.axhline(v, color=grid_c, lw=1.5 if v % 10 == 0 else 0.8, zorder=0)
ax.axhline(0, color="#a0a0a0", lw=2.3, zorder=0)

ax.set_xlim(0, 360)
ax.set_ylim(-52.29, 33.14)
ax.set_xlabel("")
ax.set_ylabel("")

yt = list(range(30, -50, -5))
ax.set_yticks(yt)
ax.set_yticklabels([str(v) for v in yt])
ax.set_xticks([12 + 24 * k for k in range(len(day_labels))])
ax.set_xticklabels(day_labels, rotation=90, va="top", ha="center")
ax.tick_params(axis="y", length=0, pad=21.6, labelsize=7.2)
ax.tick_params(axis="x", length=0, pad=2.5, labelsize=7.2)
for lbl in ax.get_yticklabels():
    lbl.set_horizontalalignment("left")

ax2 = ax.twinx()
ax2.set_ylim(ax.get_ylim())
ax2.set_yticks(yt)
ax2.set_yticklabels([str(v + 45) for v in yt])
ax2.tick_params(axis="y", length=0, pad=14.4, labelsize=7.2)

for a in (ax, ax2):
    for side in ["top"]:
        a.spines[side].set_visible(False)
    for side in ["left", "right", "bottom"]:
        a.spines[side].set_color("black")
        a.spines[side].set_linewidth(1.4)

txt = dict(fontsize=7.2, color="black", va="center", ha="left")
fig.text(fx(60), fy(69), "Temp. 850hPa", **txt)
fig.text(fx(60), fy(265), "Temp. 500hPa", **txt)
fig.text(fx(60), fy(531), "Précipitations", **txt)
fig.text(fx(20), fy(606), "(°C)", **txt)
fig.text(fx(710), fy(606), "(mm)", **txt)

# legend row
fig.add_artist(Line2D([fx(35), fx(65)], [fy(640), fy(640)], color="#ff0000", lw=3.6))
fig.text(fx(75), fy(640), "Moyenne des scénarios", **txt)
fig.add_artist(Line2D([fx(225), fx(255)], [fy(640), fy(640)], color="black", lw=3.2))
fig.text(fx(265), fy(640), "Contrôle/Det", **txt)

fig.text(fx(370), fy(652), "50 Perts.", fontsize=7.6, va="center", ha="left")
x0, pitch = 427.7, 11.07
for i in range(25):
    xl = x0 + pitch * i
    for row, (ytop, ylab) in enumerate([(645, 639), (651, 663)]):
        k = i + 25 * row
        fig.add_artist(Rectangle((fx(xl), fy(ytop + 6)), 10.2 / W, 6 / H,
                                 facecolor=member_colors[k], edgecolor="none",
                                 transform=fig.transFigure))
        fig.text(fx(xl + 5.1), fy(ylab), names[k], fontsize=5.4, fontweight="bold",
                 ha="center", va="center")

# title block
fig.add_artist(Rectangle((fx(20), fy(699)), 420 / W, 32 / H, fill=False,
                         edgecolor="black", lw=0.9, transform=fig.transFigure))
fig.text(fx(30), fy(677), "Diagramme ensembles ECMWF/CEP 0.25° sur 360h : 40.6N 22.9E",
         fontsize=8.2, fontweight="bold", va="center", ha="left")
fig.text(fx(30), fy(691), "Températures 850hPa et 500hPa (°C) , précipitations (mm)", **txt)
fig.text(fx(450), fy(677), "Ensemble ECMWF/CEP du 24/08/2026 - 12Z", **txt)
fig.text(fx(450), fy(691), "Copyright 2026 Meteociel.fr - ECMWF",
         fontsize=8.2, fontweight="bold", va="center", ha="left")

fig.savefig("out.png", dpi=100)
